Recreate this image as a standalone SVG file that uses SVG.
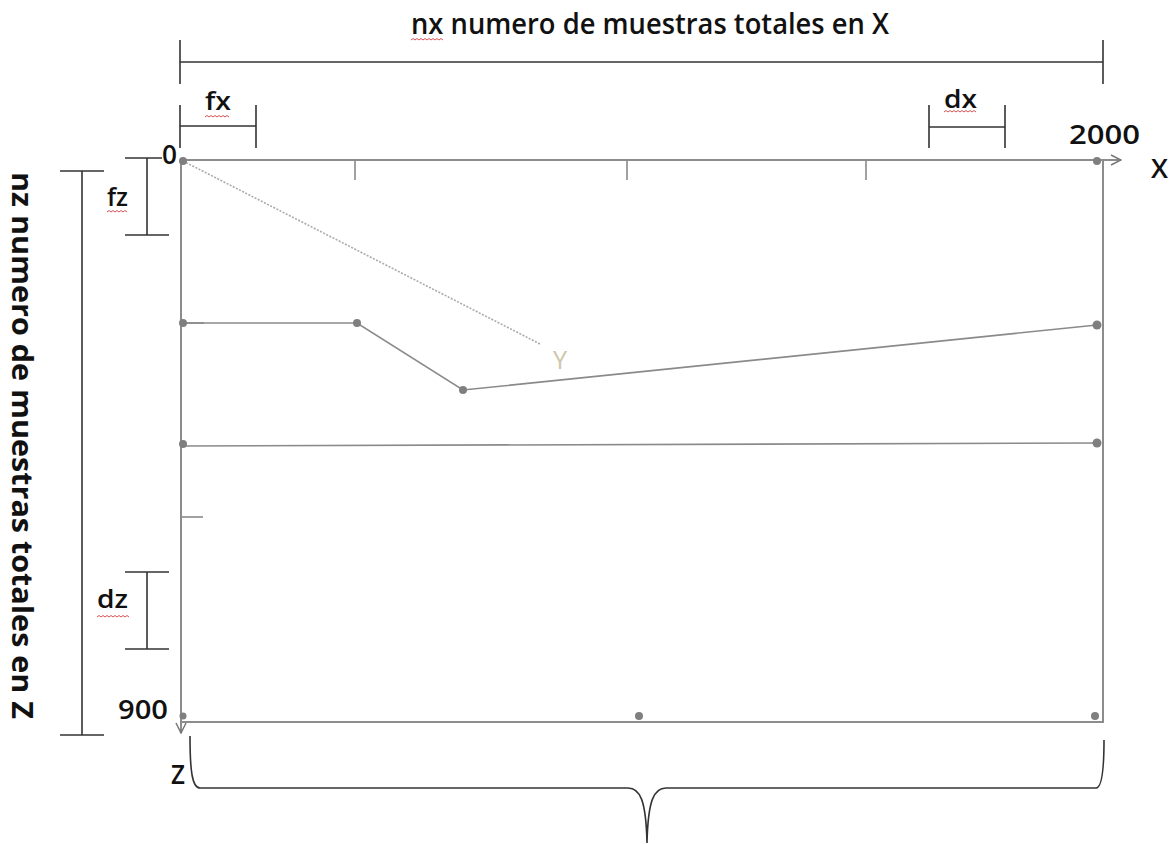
<svg xmlns="http://www.w3.org/2000/svg" width="1174" height="844" viewBox="0 0 1174 844">
<style>
.lbl{font-family:"Open Sans","Liberation Sans",sans-serif;fill:#111;font-weight:600;}
.dim{stroke:#333;stroke-width:1.6;fill:none;}
.frame{stroke:#8c8c8c;stroke-width:2;fill:none;}
.layer{stroke:#8a8a8a;stroke-width:1.6;fill:none;}
.dot{fill:#7f7f7f;}
.sq{stroke:#d04040;stroke-width:0.9;fill:none;}
</style>
<defs>
<marker id="arr" viewBox="0 0 12 12" refX="11" refY="6" markerWidth="12" markerHeight="12" markerUnits="userSpaceOnUse" orient="auto">
<path d="M1,1 L11,6 L1,11" fill="none" stroke="#777" stroke-width="1.5"/>
</marker>
</defs>
<rect width="1174" height="844" fill="#fff"/>

<g id="connectors">
<!-- axes and frame -->
<line class="frame" x1="181" y1="160" x2="1121" y2="160" stroke="#777" marker-end="url(#arr)"/>
<line class="frame" x1="181" y1="160" x2="181" y2="733" stroke="#777" marker-end="url(#arr)"/>
<line class="frame" x1="1103" y1="160" x2="1103" y2="723"/>
<line class="frame" x1="181" y1="722" x2="1103" y2="722"/>
<!-- ticks on X axis -->
<line class="layer" x1="355" y1="160" x2="355" y2="180"/>
<line class="layer" x1="627" y1="160" x2="627" y2="180"/>
<line class="layer" x1="866" y1="160" x2="866" y2="180"/>
<!-- ticks on Z axis -->
<line class="layer" x1="181" y1="323" x2="204" y2="323"/>
<line class="layer" x1="181" y1="517" x2="203" y2="517"/>
<!-- diagonal Y axis -->
<line x1="183" y1="161" x2="540" y2="344" stroke="#aaa" stroke-width="1.6" stroke-dasharray="2 1.5"/>
<!-- layers -->
<polyline class="layer" points="182,323 357,323 463,390 1097,325"/>
<line class="layer" x1="182" y1="446" x2="1097" y2="443"/>
<!-- dimension: nx -->
<line class="dim" x1="180" y1="62" x2="1103" y2="62"/>
<line class="dim" x1="180" y1="40" x2="180" y2="84"/>
<line class="dim" x1="1103" y1="40" x2="1103" y2="84"/>
<!-- fx -->
<line class="dim" x1="180" y1="126" x2="256" y2="126"/>
<line class="dim" x1="180" y1="105" x2="180" y2="148"/>
<line class="dim" x1="256" y1="105" x2="256" y2="148"/>
<!-- dx -->
<line class="dim" x1="929" y1="127" x2="1005" y2="127"/>
<line class="dim" x1="929" y1="105" x2="929" y2="148"/>
<line class="dim" x1="1005" y1="105" x2="1005" y2="148"/>
<!-- nz -->
<line class="dim" x1="82" y1="171" x2="82" y2="735"/>
<line class="dim" x1="60" y1="171" x2="104" y2="171"/>
<line class="dim" x1="60" y1="735" x2="104" y2="735"/>
<!-- fz -->
<line class="dim" x1="147" y1="158" x2="147" y2="235"/>
<line class="dim" x1="125" y1="158" x2="162" y2="158"/>
<line class="dim" x1="125" y1="235" x2="169" y2="235"/>
<!-- dz -->
<line class="dim" x1="147" y1="572" x2="147" y2="649"/>
<line class="dim" x1="125" y1="572" x2="169" y2="572"/>
<line class="dim" x1="125" y1="649" x2="169" y2="649"/>
<!-- brace -->
<path class="dim" d="M190,736 C190,770 192,788 200,788 L628,788 C640,788 646,800 647,843 C648,800 654,788 666,788 L1096,788 C1102,788 1104,770 1104,740"/>
<!-- squiggles -->
<path class="sq" d="M411,40 l2,-1.5 l2,1.5 l2,-1.5 l2,1.5 l2,-1.5 l2,1.5 l2,-1.5 l2,1.5 l2,-1.5 l2,1.5 l2,-1.5 l2,1.5 l2,-1.5 l2,1.5 l2,-1.5 l2,1.5"/>
<path class="sq" d="M205,117 l2,-1.5 l2,1.5 l2,-1.5 l2,1.5 l2,-1.5 l2,1.5 l2,-1.5 l2,1.5 l2,-1.5 l2,1.5 l2,-1.5 l2,1.5"/>
<path class="sq" d="M944,112 l2,-1.5 l2,1.5 l2,-1.5 l2,1.5 l2,-1.5 l2,1.5 l2,-1.5 l2,1.5 l2,-1.5 l2,1.5 l2,-1.5 l2,1.5 l2,-1.5 l2,1.5 l2,-1.5 l2,1.5"/>
<path class="sq" d="M107,212 l2,-1.5 l2,1.5 l2,-1.5 l2,1.5 l2,-1.5 l2,1.5 l2,-1.5 l2,1.5 l2,-1.5 l2,1.5"/>
<path class="sq" d="M97,617 l2,-1.5 l2,1.5 l2,-1.5 l2,1.5 l2,-1.5 l2,1.5 l2,-1.5 l2,1.5 l2,-1.5 l2,1.5 l2,-1.5 l2,1.5 l2,-1.5 l2,1.5 l2,-1.5 l2,1.5"/>
</g>

<g id="points">
<circle class="dot" cx="183" cy="161" r="4"/>
<circle class="dot" cx="1097" cy="161" r="4"/>
<circle class="dot" cx="183" cy="323" r="4"/>
<circle class="dot" cx="357" cy="323" r="4"/>
<circle class="dot" cx="463" cy="390" r="4"/>
<circle class="dot" cx="1097" cy="325" r="4.5"/>
<circle class="dot" cx="183" cy="444" r="4"/>
<circle class="dot" cx="1097" cy="443" r="4.5"/>
<circle class="dot" cx="183" cy="716" r="3.5"/>
<circle class="dot" cx="639" cy="716" r="4"/>
<circle class="dot" cx="1095" cy="716" r="4"/>
</g>

<g id="labels">
<text class="lbl" x="411" y="34" font-size="28" textLength="478" lengthAdjust="spacingAndGlyphs">nx numero de muestras totales en X</text>
<text class="lbl" font-size="29" font-weight="bold" style="font-weight:bold" transform="translate(12,172) rotate(90)" textLength="547" lengthAdjust="spacingAndGlyphs">nz numero de muestras totales en Z</text>
<text class="lbl" x="205" y="110" font-size="25" textLength="26" lengthAdjust="spacingAndGlyphs">fx</text>
<text class="lbl" x="944" y="108" font-size="25" textLength="33" lengthAdjust="spacingAndGlyphs">dx</text>
<text class="lbl" x="107" y="206" font-size="25" textLength="21" lengthAdjust="spacingAndGlyphs">fz</text>
<text class="lbl" x="97" y="608" font-size="25" textLength="31" lengthAdjust="spacingAndGlyphs">dz</text>
<text class="lbl" x="162" y="164" font-size="27" textLength="15" lengthAdjust="spacingAndGlyphs">0</text>
<text class="lbl" x="1069" y="144" font-size="27" textLength="71" lengthAdjust="spacingAndGlyphs">2000</text>
<text class="lbl" x="1151" y="178" font-size="27" textLength="17" lengthAdjust="spacingAndGlyphs">X</text>
<text class="lbl" x="118" y="719" font-size="27" textLength="50" lengthAdjust="spacingAndGlyphs">900</text>
<text class="lbl" x="171" y="784" font-size="27" textLength="14" lengthAdjust="spacingAndGlyphs">Z</text>
<text class="lbl" x="553" y="369" font-size="25" style="fill:#cbc7a8;font-weight:normal" textLength="14" lengthAdjust="spacingAndGlyphs">Y</text>
</g>
</svg>
